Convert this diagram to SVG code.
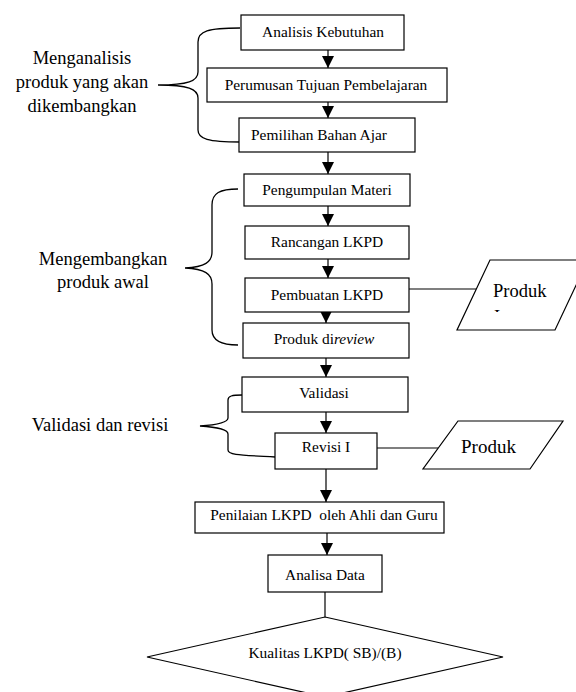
<svg xmlns="http://www.w3.org/2000/svg" width="576" height="692" viewBox="0 0 576 692">
<defs>
<style>
.box{fill:#fff;stroke:#000;stroke-width:1.2}
.ln{fill:none;stroke:#000;stroke-width:1.2}
.br{fill:none;stroke:#000;stroke-width:1.3}
text{font-family:'Liberation Serif',serif;fill:#000}
.t{font-size:15.4px;text-anchor:middle}
.lb{font-size:18.5px;text-anchor:middle}
.pl{font-size:18.5px}
</style>
<marker id="ah" markerUnits="userSpaceOnUse" markerWidth="12" markerHeight="12" viewBox="0 0 10 10" refX="10" refY="5" orient="auto">
<path d="M0,0 L10,5 L0,10 Z" fill="#000"/>
</marker>
<clipPath id="cp1"><rect x="480" y="305" width="40" height="7"/></clipPath>
</defs>
<rect width="576" height="692" fill="#fff"/>

<g id="labels" font-family="Liberation Serif, serif">
<text class="lb" x="82" y="64">Menganalisis</text>
<text class="lb" x="82" y="88">produk yang akan</text>
<text class="lb" x="82" y="112">dikembangkan</text>
<text class="lb" x="103" y="265">Mengembangkan</text>
<text class="lb" x="103" y="288">produk awal</text>
<text class="lb" x="100" y="431">Validasi dan revisi</text>
</g>

<g id="braces">
<path class="br" d="M240,28 C208,28 198,31 198,42 L198,72 C198,81 188,85 158,85 C188,85 198,89 198,98 L198,130 C198,139 208,142 240,142"/>
<path class="br" d="M238,189 C220,189 212,193 212,205 L212,252 C212,262 205,267 185,268 C205,269 212,274 212,284 L212,330 C212,340 220,345 238,345"/>
<path class="br" d="M242,395 C232,395 228,396 228,400 L228,418 C228,423 215,425 200,426 C215,427 228,429 228,434 L228,450 C228,455 240,455 275,457"/>
</g>

<g id="connectors">
<line class="ln" x1="328" y1="50" x2="328" y2="68" marker-end="url(#ah)"/>
<line class="ln" x1="328" y1="102" x2="328" y2="118" marker-end="url(#ah)"/>
<line class="ln" x1="328" y1="152" x2="328" y2="174" marker-end="url(#ah)"/>
<line class="ln" x1="328" y1="206" x2="328" y2="226" marker-end="url(#ah)"/>
<line class="ln" x1="328" y1="259" x2="328" y2="278" marker-end="url(#ah)"/>
<line class="ln" x1="326" y1="312" x2="326" y2="323" marker-end="url(#ah)"/>
<line class="ln" x1="326" y1="358" x2="326" y2="377" marker-end="url(#ah)"/>
<line class="ln" x1="326" y1="412" x2="326" y2="433" marker-end="url(#ah)"/>
<line class="ln" x1="326" y1="469" x2="326" y2="502" marker-end="url(#ah)"/>
<line class="ln" x1="327" y1="533" x2="327" y2="555" marker-end="url(#ah)"/>
<line class="ln" x1="325" y1="592" x2="325" y2="617"/>
<line class="ln" x1="409" y1="289" x2="476" y2="289"/>
<line class="ln" x1="377" y1="448" x2="438" y2="448"/>
</g>

<g id="n1"><rect class="box" x="241" y="15" width="163" height="35"/><text class="t" x="323" y="37">Analisis Kebutuhan</text></g>
<g id="n2"><rect class="box" x="207" y="68" width="240" height="34"/><text class="t" x="326" y="90">Perumusan Tujuan Pembelajaran</text></g>
<g id="n3"><rect class="box" x="239" y="118" width="176" height="34"/><text class="t" x="319" y="140">Pemilihan Bahan Ajar</text></g>
<g id="n4"><rect class="box" x="244" y="174" width="166" height="32"/><text class="t" x="327" y="195">Pengumpulan Materi</text></g>
<g id="n5"><rect class="box" x="245" y="226" width="164" height="33"/><text class="t" x="327" y="247">Rancangan LKPD</text></g>
<g id="n6"><rect class="box" x="245" y="278" width="164" height="34"/><text class="t" x="327" y="300">Pembuatan LKPD</text></g>
<g id="n7"><rect class="box" x="243" y="323" width="166" height="35"/><text class="t" x="324" y="344">Produk di<tspan font-style="italic">review</tspan></text></g>
<g id="n8"><rect class="box" x="242" y="377" width="166" height="35"/><text class="t" x="324" y="398">Validasi</text></g>
<g id="n9"><rect class="box" x="275" y="433" width="102" height="36"/><text class="t" x="326" y="452">Revisi I</text></g>
<g id="n10"><rect class="box" x="195" y="502" width="249" height="31"/><text class="t" x="324" y="520" xml:space="preserve">Penilaian LKPD  oleh Ahli dan Guru</text></g>
<g id="n11"><rect class="box" x="268" y="555" width="114" height="37"/><text class="t" x="325" y="580">Analisa Data</text></g>
<g id="n12"><polygon class="box" points="325,617 503,657 325,697 147,657"/><text class="t" x="325" y="658">Kualitas LKPD( SB)/(B)</text></g>

<g id="p1">
<polygon class="box" points="490,260 588,260 555,330 457,330"/>
<text class="pl" x="493" y="297">Produk</text>
<text class="pl" x="494" y="323" clip-path="url(#cp1)">I</text>
</g>
<g id="p2">
<polygon class="box" points="458,421 563,421 530,469 423,469"/>
<text class="pl" x="461" y="453" style="font-size:19px">Produk</text>
</g>
</svg>
